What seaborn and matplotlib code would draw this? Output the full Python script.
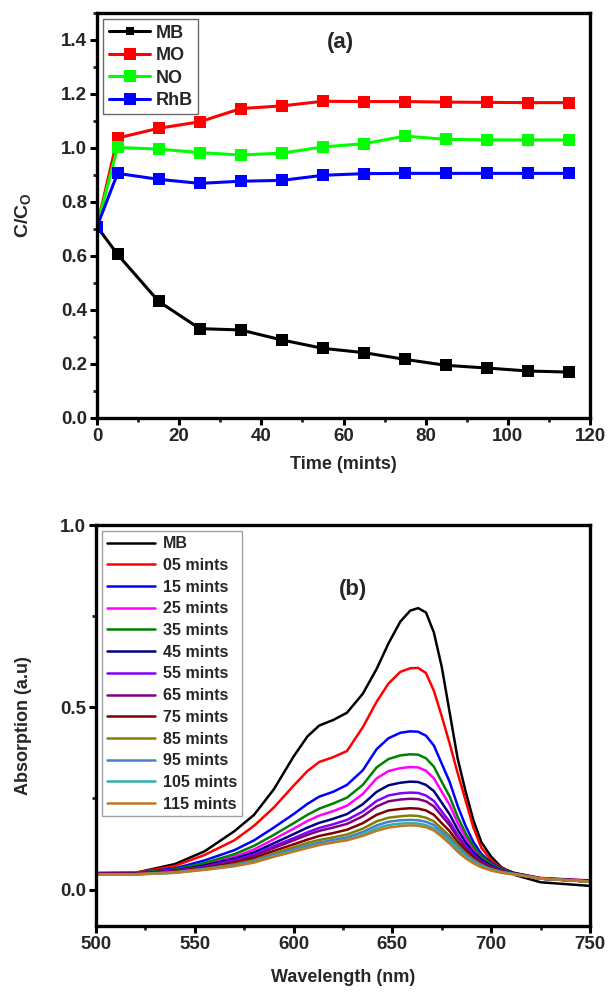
import numpy as np
import pandas as pd
import matplotlib
matplotlib.use("Agg")
import matplotlib.pyplot as plt
import seaborn as sns
from matplotlib.ticker import MultipleLocator
from matplotlib.lines import Line2D

# ---------------- data (a) ----------------
time_min = [0, 5, 15, 25, 35, 45, 55, 65, 75, 85, 95, 105, 115]
mb = [0.709, 0.606, 0.432, 0.331, 0.326, 0.289, 0.258, 0.242, 0.217, 0.195, 0.185, 0.174, 0.170]
mo = [0.709, 1.037, 1.073, 1.097, 1.146, 1.156, 1.173, 1.172, 1.172, 1.170, 1.169, 1.168, 1.168]
no = [0.709, 1.002, 0.996, 0.983, 0.974, 0.981, 1.004, 1.016, 1.044, 1.032, 1.030, 1.030, 1.030]
rhb = [0.709, 0.906, 0.884, 0.869, 0.877, 0.880, 0.899, 0.905, 0.906, 0.906, 0.906, 0.906, 0.906]
dye_names = ["MB", "MO", "NO", "RhB"]
dye_colors = ["#000000", "#FF0000", "#00FF00", "#0000FF"]

# ---------------- data (b) ----------------
wavelength = [500, 520, 540, 555, 570, 580, 590, 600, 607, 613, 620, 627, 635, 642, 648, 654,
              659, 663, 667, 671, 675, 679, 683, 687, 691, 695, 700, 705, 712, 725, 750]
spec_MB = [.045, .046, .070, .105, .160, .205, .275, .365, .420, .450, .465, .485, .537, .605, .675, .735,
           .765, .772, .760, .705, .610, .485, .360, .270, .190, .130, .090, .062, .040, .020, .010]
spec_05 = [.045, .046, .065, .095, .135, .175, .225, .285, .325, .350, .363, .380, .445, .515, .565, .597,
           .607, .608, .594, .545, .475, .400, .320, .245, .170, .115, .080, .060, .045, .032, .025]
spec_15 = [.045, .045, .058, .080, .108, .135, .170, .207, .235, .255, .268, .287, .327, .385, .415, .430,
           .434, .433, .422, .395, .345, .295, .230, .175, .130, .098, .073, .058, .045, .031, .024]
spec_25 = [.045, .045, .053, .069, .090, .110, .138, .167, .188, .203, .215, .230, .262, .305, .325, .333,
           .336, .335, .326, .305, .268, .232, .183, .143, .110, .087, .068, .055, .044, .030, .022]
spec_35 = [.045, .045, .055, .073, .097, .120, .150, .182, .205, .222, .236, .252, .287, .335, .358, .368,
           .371, .370, .360, .337, .295, .255, .200, .155, .118, .092, .070, .056, .045, .030, .022]
spec_45 = [.044, .044, .052, .066, .085, .102, .127, .152, .170, .183, .194, .207, .234, .268, .286, .293,
           .296, .295, .287, .270, .238, .206, .165, .130, .102, .082, .065, .053, .044, .030, .022]
spec_55 = [.044, .044, .051, .063, .080, .096, .119, .141, .157, .169, .179, .191, .214, .243, .258, .264,
           .266, .265, .258, .243, .214, .186, .150, .120, .095, .077, .062, .052, .043, .030, .022]
spec_65 = [.043, .043, .050, .061, .077, .092, .114, .135, .150, .161, .170, .180, .201, .228, .242, .247,
           .249, .248, .242, .228, .202, .176, .143, .115, .092, .075, .060, .051, .043, .030, .022]
spec_75 = [.043, .043, .049, .059, .073, .086, .106, .124, .137, .147, .155, .164, .182, .205, .217, .221,
           .223, .222, .217, .205, .182, .160, .131, .107, .087, .071, .058, .050, .043, .030, .023]
spec_85 = [.042, .042, .048, .057, .069, .081, .099, .116, .128, .136, .143, .151, .167, .187, .197, .201,
           .203, .202, .197, .187, .167, .147, .122, .100, .082, .068, .056, .049, .042, .030, .022]
spec_95 = [.042, .042, .047, .056, .067, .078, .095, .110, .121, .129, .136, .143, .158, .176, .186, .190,
           .191, .190, .186, .177, .158, .139, .116, .096, .079, .066, .055, .048, .042, .030, .022]
spec_105 = [.041, .041, .046, .055, .065, .076, .092, .106, .116, .124, .130, .137, .151, .168, .177, .181,
            .182, .181, .177, .168, .151, .133, .111, .092, .076, .064, .054, .047, .042, .030, .022]
spec_115 = [.042, .042, .046, .054, .064, .074, .090, .104, .114, .122, .129, .135, .147, .161, .170, .174,
            .176, .175, .171, .162, .145, .126, .104, .086, .072, .061, .052, .046, .041, .030, .022]
spec_labels = ["MB", "05 mints", "15 mints", "25 mints", "35 mints", "45 mints", "55 mints",
               "65 mints", "75 mints", "85 mints", "95 mints", "105 mints", "115 mints"]
spec_colors = ["#000000", "#FF0000", "#0000FF", "#FF00FF", "#008000", "#000080", "#8000FF",
               "#800080", "#800000", "#808000", "#4A7EC8", "#30B0B0", "#C07828"]
spectra = [spec_MB, spec_05, spec_15, spec_25, spec_35, spec_45, spec_55,
           spec_65, spec_75, spec_85, spec_95, spec_105, spec_115]

# ---------------- style ----------------
sns.set_style("ticks")
plt.rcParams["font.family"] = ["Liberation Sans", "DejaVu Sans"]
plt.rcParams["font.weight"] = "bold"
plt.rcParams["axes.labelweight"] = "bold"
plt.rcParams["mathtext.fontset"] = "custom"
plt.rcParams["mathtext.rm"] = "Liberation Sans:bold"
plt.rcParams["mathtext.bf"] = "Liberation Sans:bold"
plt.rcParams["mathtext.it"] = "Liberation Sans:bold"

fig = plt.figure(figsize=(6.11, 9.94), dpi=100)
ax1 = fig.add_axes([97 / 611, 1 - 418 / 994, 493 / 611, 405 / 994])
ax2 = fig.add_axes([96 / 611, 1 - 926 / 994, 494 / 611, 401 / 994])

def style_axes(ax):
    for s in ax.spines.values():
        s.set_linewidth(2.4)
        s.set_color("black")
    ax.tick_params(which="major", direction="out", length=5, width=2.2, labelsize=13.5,
                   pad=2, top=False, right=False, color="black")
    ax.tick_params(which="minor", direction="out", length=3, width=2.0, top=False, right=False)
    for lab in ax.get_xticklabels() + ax.get_yticklabels():
        lab.set_fontweight("bold")

# ---- (a)
df_a = pd.DataFrame({
    "time": time_min * 4,
    "val": mb + mo + no + rhb,
    "dye": sum([[n] * len(time_min) for n in dye_names], []),
})
sns.lineplot(data=df_a, x="time", y="val", hue="dye", hue_order=dye_names,
             palette=dye_colors, marker="s", markersize=8, markeredgewidth=0,
             linewidth=2.2, ax=ax1, legend=False)
ax1.set_xlim(0, 120)
ax1.set_ylim(0, 1.5)
ax1.xaxis.set_minor_locator(MultipleLocator(10))
ax1.yaxis.set_minor_locator(MultipleLocator(0.1))
ax1.set_xticks([0, 20, 40, 60, 80, 100, 120])
ax1.set_xticklabels(["0", "20", "40", "60", "80", "100", "120"])
ax1.set_yticks([0.0, 0.2, 0.4, 0.6, 0.8, 1.0, 1.2, 1.4])
ax1.set_yticklabels(["0.0", "0.2", "0.4", "0.6", "0.8", "1.0", "1.2", "1.4"])
style_axes(ax1)
ax1.set_xlabel("Time (mints)", fontsize=13, fontweight="bold", labelpad=8)
ax1.set_ylabel(r"$\mathrm{C/C_O}$", fontsize=14, labelpad=20)
ax1.text(0.493, 0.928, "(a)", transform=ax1.transAxes, fontsize=16,
         fontweight="bold", ha="center", va="center")
h1 = [Line2D([0], [0], color=c, marker="s", markersize=8 if c != "#000000" else 6,
             markeredgewidth=0, linewidth=2.2) for c in dye_colors]
leg1 = ax1.legend(h1, dye_names, loc="upper left", bbox_to_anchor=(0.0, 1.0),
                  frameon=True, fancybox=False, edgecolor="#444444",
                  handlelength=2.3, handletextpad=0.3, labelspacing=0.3,
                  borderpad=0.3, borderaxespad=0.35, prop={"weight": "bold", "size": 13})
leg1.get_frame().set_linewidth(1.0)

# ---- (b)
df_b = pd.DataFrame({
    "wl": wavelength * len(spectra),
    "abs": sum(spectra, []),
    "sample": sum([[l] * len(wavelength) for l in spec_labels], []),
})
sns.lineplot(data=df_b, x="wl", y="abs", hue="sample", hue_order=spec_labels,
             palette=spec_colors, linewidth=1.8, ax=ax2, legend=False, sort=True)
ax2.set_xlim(500, 750)
ax2.set_ylim(-0.1, 1.0)
ax2.xaxis.set_major_locator(MultipleLocator(50))
ax2.xaxis.set_minor_locator(MultipleLocator(25))
ax2.set_yticks([0.0, 0.5, 1.0])
ax2.set_yticklabels(["0.0", "0.5", "1.0"])
ax2.yaxis.set_minor_locator(MultipleLocator(0.25))
style_axes(ax2)
ax2.set_xlabel("Wavelength (nm)", fontsize=13, fontweight="bold", labelpad=12)
ax2.set_ylabel("Absorption (a.u)", fontsize=13, fontweight="bold", labelpad=20)
ax2.text(0.52, 0.838, "(b)", transform=ax2.transAxes, fontsize=16,
         fontweight="bold", ha="center", va="center")
h2 = [Line2D([0], [0], color=c, linewidth=1.8) for c in spec_colors]
leg2 = ax2.legend(h2, spec_labels, loc="upper left", bbox_to_anchor=(0.0, 1.0),
                  frameon=True, fancybox=False, edgecolor="#888888",
                  handlelength=3.0, handletextpad=0.5, labelspacing=0.42,
                  borderpad=0.3, borderaxespad=0.4, prop={"weight": "bold", "size": 11.5})
leg2.get_frame().set_linewidth(1.0)

fig.savefig("out.png", dpi=100)
